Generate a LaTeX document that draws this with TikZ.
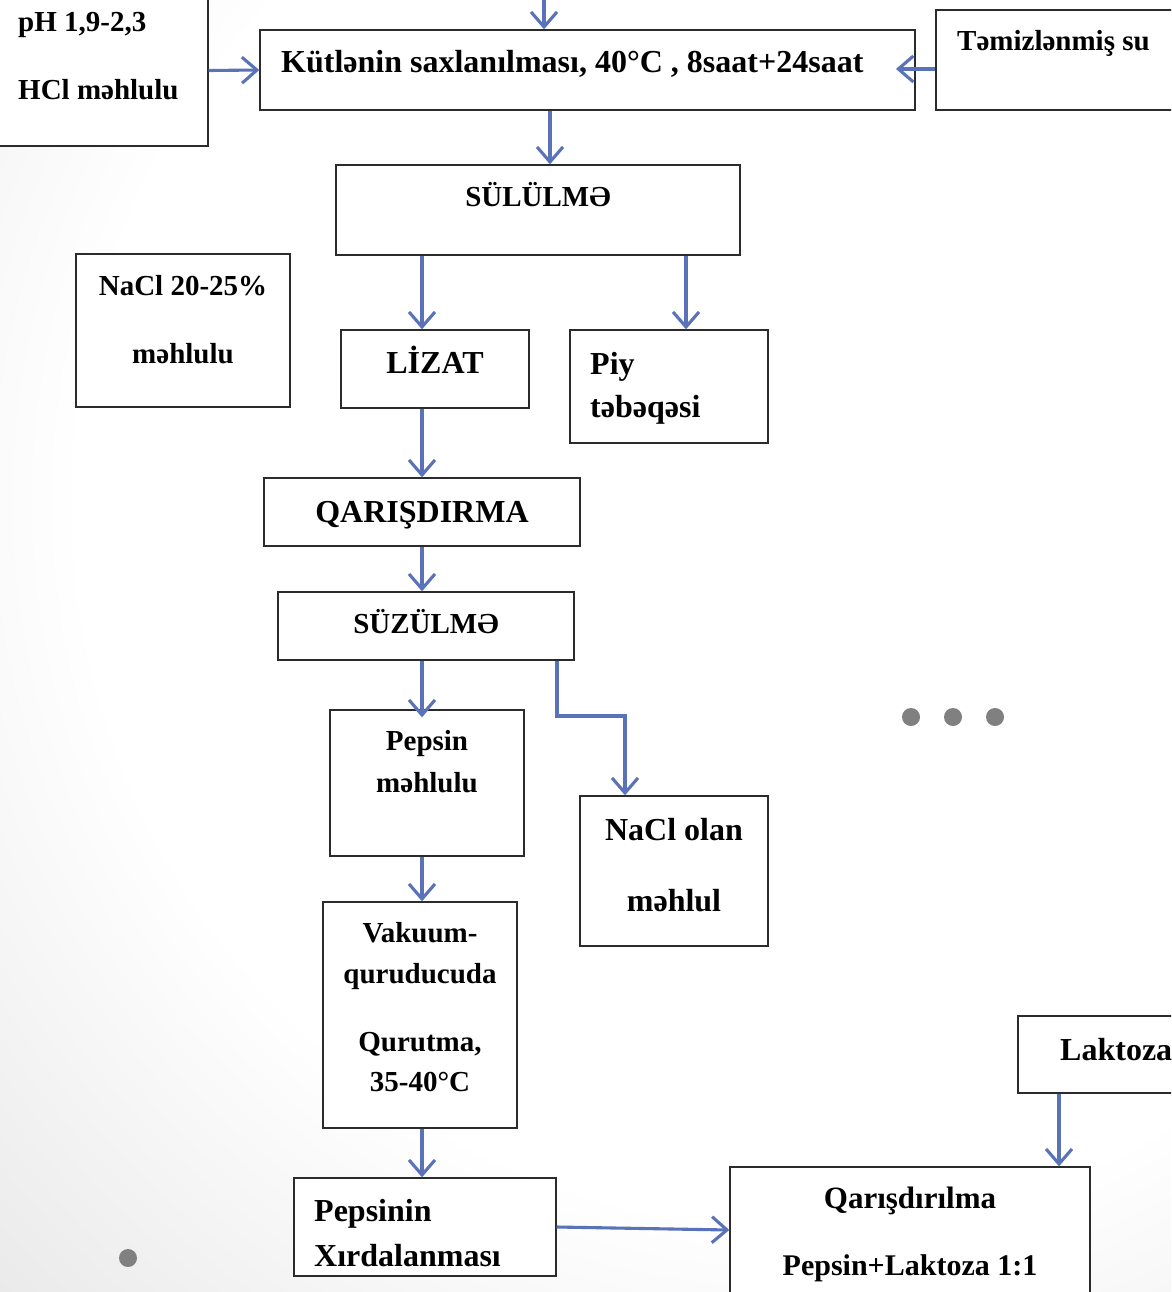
\documentclass[tikz,border=0pt]{standalone}
\usepackage{fontspec}
\setmainfont{Liberation Serif}
\usetikzlibrary{arrows.meta}
\definecolor{arrowblue}{HTML}{5A72B8}
\definecolor{boxline}{HTML}{2B2B2B}
\definecolor{dotgray}{HTML}{808080}
\pgfdeclareradialshading{bgshade}{\pgfpoint{0bp}{0bp}}{color(0bp)=(white); color(15bp)=(white); color(50bp)=(black!34)}
\newcommand{\mybox}[5]{\node[box, minimum width={#4-#2}, minimum height={#5-#3}] (#1) at ({(#2+#4)/2},{(#3+#5)/2}) {};}
\begin{document}
\begin{tikzpicture}[x=1pt,y=-1pt,
  box/.style={draw=boxline, line width=1.4pt, fill=white, inner sep=0pt},
  lbl/.style={inner sep=0pt, font=\fontsize{29}{34}\selectfont\bfseries},
  big/.style={inner sep=0pt, font=\fontsize{32}{38}\selectfont\bfseries},
  flow/.style={draw=arrowblue, line width=3.1pt, -{Straight Barb[length=15pt,width=26pt,line width=3.1pt]}},
  dot/.style={circle, fill=dotgray, inner sep=0pt, minimum size=18pt}]
\useasboundingbox (0,0) rectangle (1171,1292);
\begin{scope}
\clip (0,0) rectangle (1171,1292);
\shade[shading=bgshade] (-400,-700) rectangle (2000,1700);

% boxes
\mybox{ph}{-5}{-5}{208}{146}
\mybox{main}{260}{30}{915}{110}
\mybox{su}{936}{10}{1180}{110}
\mybox{sul}{336}{165}{740}{255}
\mybox{nacl}{76}{254}{290}{407}
\mybox{lizat}{341}{330}{529}{408}
\mybox{piy}{570}{330}{768}{443}
\mybox{qar}{264}{478}{580}{546}
\mybox{suz}{278}{592}{574}{660}
\mybox{pep}{330}{710}{524}{856}
\mybox{nacltwo}{580}{796}{768}{946}
\mybox{vak}{323}{902}{517}{1128}
\mybox{pxr}{294}{1178}{556}{1276}
\mybox{qmix}{730}{1167}{1090}{1299}
\mybox{lak}{1018}{1016}{1180}{1093}

% texts
\node[lbl, anchor=base west] (tph1) at (18,32) {pH 1,9-2,3};
\node[lbl, anchor=base west] (tph2) at (18,100) {HCl məhlulu};
\node[big, anchor=base west] (tmain) at (281,73) {Kütlənin saxlanılması, 40°C , 8saat+24saat};
\node[lbl, anchor=base west] (tsu) at (957,51) {Təmizlənmiş su};
\node[lbl, anchor=base] (tsul) at (538,206) {SÜLÜLMƏ};
\node[lbl, anchor=base] (tnacl1) at (183,295) {NaCl 20-25\%};
\node[lbl, anchor=base] (tnacl2) at (183,363) {məhlulu};
\node[big, anchor=base] (tlizat) at (435,373) {LİZAT};
\node[big, anchor=base west] (tpiy1) at (590,374) {Piy};
\node[big, anchor=base west] (tpiy2) at (590,417) {təbəqəsi};
\node[big, anchor=base] (tqar) at (422,522) {QARIŞDIRMA};
\node[lbl, anchor=base] (tsuz) at (426,633) {SÜZÜLMƏ};
\node[lbl, anchor=base] (tpep1) at (427,750) {Pepsin};
\node[lbl, anchor=base] (tpep2) at (427,792) {məhlulu};
\node[big, anchor=base] (tnt1) at (674,840) {NaCl olan};
\node[big, anchor=base] (tnt2) at (674,911) {məhlul};
\node[lbl, anchor=base] (tvak1) at (420,942) {Vakuum-};
\node[lbl, anchor=base] (tvak2) at (420,983) {quruducuda};
\node[lbl, anchor=base] (tvak3) at (420,1051) {Qurutma,};
\node[lbl, anchor=base] (tvak4) at (420,1091) {35-40°C};
\node[big, anchor=base west] (tpxr1) at (314,1221) {Pepsinin};
\node[big, anchor=base west] (tpxr2) at (314,1266) {Xırdalanması};
\node[inner sep=0pt, font=\fontsize{31}{36}\selectfont\bfseries, anchor=base] (tqm1) at (910,1208) {Qarışdırılma};
\node[inner sep=0pt, font=\fontsize{30}{36}\selectfont\bfseries, anchor=base] (tqm2) at (910,1275) {Pepsin+Laktoza 1:1};
\node[big, anchor=base west] (tlak) at (1060,1060) {Laktoza};

% dots
\node[dot] (d1) at (911,717) {};
\node[dot] (d2) at (953,717) {};
\node[dot] (d3) at (995,717) {};
\node[dot] (d4) at (128,1258) {};

% connectors
\coordinate (topin) at (544,-5);
\coordinate (suend) at (896,69);
\coordinate (bend) at (625,716);
\draw[flow] (topin) -- (topin |- main.north);
\draw[flow] (ph.east) -- (main.west);
\draw[flow] (suend -| su.west) -- (suend);
\draw[flow] (main.south -| 550,0) -- (sul.north -| 550,0);
\draw[flow] (sul.south -| 422,0) -- (lizat.north -| 422,0);
\draw[flow] (sul.south -| 686,0) -- (piy.north -| 686,0);
\draw[flow] (lizat.south -| 422,0) -- (qar.north -| 422,0);
\draw[flow] (qar.south -| 422,0) -- (suz.north -| 422,0);
\draw[flow] (suz.south -| 422,0) -- ([yshift=-8pt]pep.north -| 422,0);
\draw[flow] (suz.south -| 557,0) |- (bend) -- (nacltwo.north -| bend);
\draw[flow] (pep.south -| 422,0) -- (vak.north -| 422,0);
\draw[flow] (vak.south -| 422,0) -- (pxr.north -| 422,0);
\draw[flow] (pxr.east) -- (qmix.west |- 0,1230);
\draw[flow] (lak.south -| 1059,0) -- (qmix.north -| 1059,0);
\end{scope}
\end{tikzpicture}
\end{document}
